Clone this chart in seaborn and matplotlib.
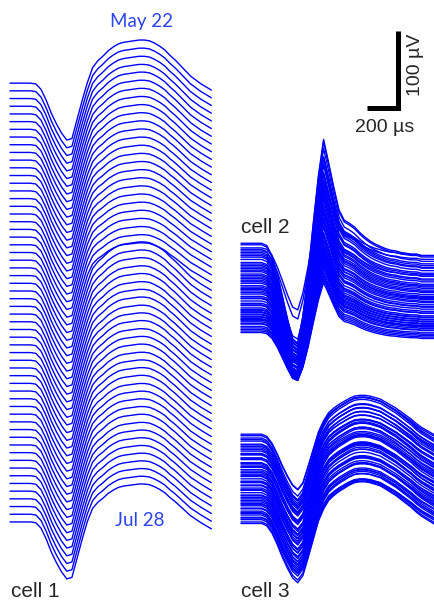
import numpy as np
import pandas as pd
import matplotlib
matplotlib.use("Agg")
import matplotlib.pyplot as plt
import seaborn as sns

# sampling: 30 kHz, 40 samples per snippet
dt_us = 33.3
n_samp = 40

# mean spike shapes (uV)
cell1_wave = [0, 0, 0, 0, 0, -1, -8, -22, -39, -53, -65, -74, -72, -47, -22, 1, 20, 29, 35, 42,
              47, 51, 53, 54, 55, 56, 56, 55, 52, 48, 43, 36, 30, 23, 16, 9, 4, -1, -5, -9]
cell2_wave = [0, 0, 0, 0, 0, -3, -16, -39, -68, -98, -124, -130, -94, -39, 26, 88, 135, 104, 72, 43,
              30, 26, 21, 14, 8, 3, -1, -4, -7, -9, -10, -12, -13, -14, -14, -16, -16, -16, -16, -16]
cell3_wave = [0, 0, 0, 0, 0, -3, -12, -26, -42, -56, -68, -74, -65, -43, -20, 3, 18, 29, 35, 40,
              44, 48, 51, 52, 52, 51, 49, 47, 43, 39, 35, 30, 25, 20, 14, 9, 5, 1, -3, -7]

# cell 1: one trace per day, May 22 (top) to Jul 28 (bottom); relative peak size
cell1_peak_gain = [1.00, 0.99, 0.98, 0.97, 0.97, 0.96, 0.95, 0.94, 0.93, 0.92, 0.91, 0.90, 0.89,
                   0.88, 0.87, 0.86, 0.85, 0.84, 0.83, 0.82, 0.81, 0.80, 0.79, 0.78, 0.77, 0.76,
                   0.96, 0.95, 0.95, 0.94, 0.94, 0.93, 0.93, 0.93, 0.92, 0.92, 0.92, 0.91, 0.91,
                   0.91, 0.90, 0.90, 0.90, 0.90, 0.89, 0.89, 0.89, 0.89, 0.89, 0.88, 0.88, 0.88,
                   0.88, 0.88, 0.88, 0.88, 0.88, 0.88]

# cells 2 and 3: overlaid traces, baseline offset (uV) and gain per day
cell2_offset = [-2, -6, 0, -10, -14, -8, -18, -21, -16, -25, -12, -29, -33, -27, -37, -40, -35, -44,
                -31, -48, -52, -46, -55, -42, -59, -62, -57, -66, -50, -69, -72, -64, -75, -78, -71,
                -81, -84, -60, -87, -90, -80, -93, -96, -86, -99, -102, -92, -105, -108, -98, -110,
                -112, -104, -114, -116, -100, -95, -89]
cell2_gain = [0.99, 0.62, 1.00, 0.68, 0.93, 0.97, 0.90, 0.91, 0.95, 0.87, 0.92, 0.88, 0.84, 0.86,
              0.82, 0.83, 0.80, 0.79, 0.72, 0.80, 0.76, 0.78, 0.74, 0.83, 0.73, 0.71, 0.76, 0.70,
              0.79, 0.68, 0.69, 0.72, 0.66, 0.65, 0.70, 0.63, 0.64, 0.75, 0.61, 0.60, 0.66, 0.58,
              0.57, 0.62, 0.56, 0.55, 0.60, 0.53, 0.52, 0.57, 0.51, 0.50, 0.55, 0.49, 0.48, 0.56,
              0.59, 0.62]
cell3_offset = [0, -5, -2, -9, -13, -7, -16, -18, -14, -22, -25, -20, -27, -31, -26, -33, -37, -31,
                -40, -42, -38, -46, -48, -43, -52, -54, -50, -58, -61, -55, -63, -67, -62, -70, -72,
                -66, -76, -79, -73, -82, -84, -80, -88, -90, -86, -93, -97, -91, -100, -102, -96,
                -105, -108, -103, -111, -114, -109, -116]
cell3_gain = [0.97, 1.02, 0.95, 1.04, 0.99, 1.06, 0.96, 1.01, 1.03, 0.98, 0.95, 1.05, 1.00, 0.97,
              1.07, 0.99, 1.02, 0.96, 1.04, 0.98, 1.01, 0.95, 1.06, 1.00, 0.97, 1.03, 0.99, 1.05,
              0.96, 1.02, 0.98, 1.04, 1.00, 0.97, 1.06, 0.99, 1.01, 0.95, 1.03, 0.98, 1.05, 1.00,
              0.96, 1.02, 0.99, 1.07, 0.97, 1.01, 1.04, 0.98, 1.00, 1.03, 0.96, 1.05, 0.99, 1.02,
              0.97, 1.04]

# layout (us / uV)
c1_x0, c1_step = 0.0, -10.0
c23_x0 = 1490.0
c2_base, c3_base = -208.0, -456.0

t = np.arange(n_samp) * dt_us
rows = []
for i, g in enumerate(cell1_peak_gain):
    w = np.array(cell1_wave, float)
    w = np.where(w > 0, w * g, w) + i * c1_step
    rows.append(pd.DataFrame({"t": c1_x0 + t, "v": w, "trace": f"c1_{i}"}))
for i, (off, g) in enumerate(zip(cell2_offset, cell2_gain)):
    w = c2_base + off + g * np.array(cell2_wave, float)
    rows.append(pd.DataFrame({"t": c23_x0 + t, "v": w, "trace": f"c2_{i}"}))
for i, (off, g) in enumerate(zip(cell3_offset, cell3_gain)):
    w = c3_base + off + g * np.array(cell3_wave, float)
    rows.append(pd.DataFrame({"t": c23_x0 + t, "v": w, "trace": f"c3_{i}"}))
df = pd.concat(rows, ignore_index=True)

sns.set_style("white")
plt.rcParams["font.family"] = ["Liberation Sans", "DejaVu Sans"]

fig = plt.figure(figsize=(4.34, 6.02), dpi=100)
ax = fig.add_axes([0, 0, 1, 1])
sns.lineplot(data=df, x="t", y="v", units="trace", estimator=None, color="#0000ff",
             linewidth=1.0, legend=False, ax=ax)

# scale bar: 200 us x 100 uV
cx, cy = 2503, -32
ax.plot([cx - 200, cx, cx], [cy, cy, cy + 100], color="black", lw=3.6,
        solid_joinstyle="miter", solid_capstyle="butt")

ax.set_xlim(-64.5, 2735)
ax.set_ylim(-674, 108)
ax.axis("off")

blue = "#2b44ee"
fig.text(141 / 434, 1 - 27 / 602, "May 22", color=blue, fontsize=13.5, ha="center",
         va="baseline", family=["Lato", "DejaVu Sans"])
fig.text(140 / 434, 1 - 526 / 602, "Jul 28", color=blue, fontsize=13.5, ha="center",
         va="baseline", family=["Lato", "DejaVu Sans"])
fig.text(11 / 434, 1 - 597 / 602, "cell 1", fontsize=15, va="baseline")
fig.text(241 / 434, 1 - 233 / 602, "cell 2", fontsize=15, va="baseline")
fig.text(241 / 434, 1 - 597 / 602, "cell 3", fontsize=15, va="baseline")
fig.text(385 / 434, 1 - 132 / 602, "200 µs", fontsize=14, ha="center", va="baseline")
fig.text(415 / 434, 1 - 65 / 602, "100 µV", fontsize=14, rotation=90, ha="center",
         va="center")

fig.savefig("out.png", dpi=100)
